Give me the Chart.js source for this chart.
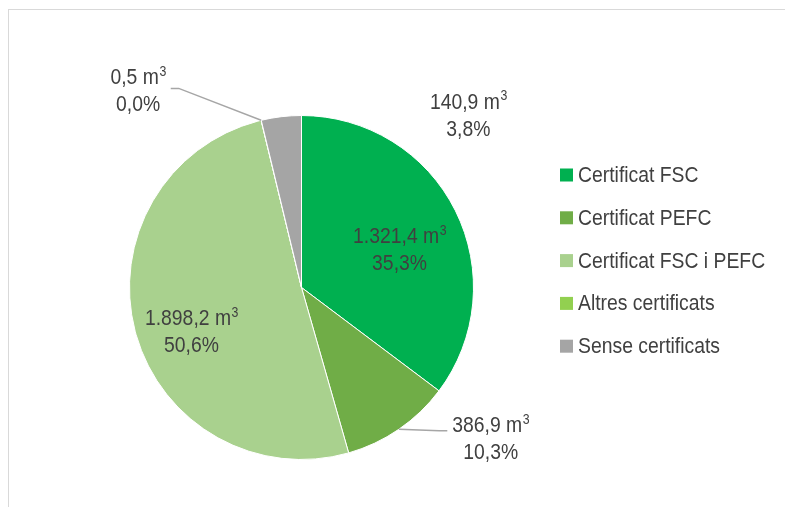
<!DOCTYPE html>
<html>
<head>
<meta charset="utf-8">
<script src="https://cdn.jsdelivr.net/npm/chart.js@4.4.1/dist/chart.umd.min.js"></script>
<style>
  html, body { margin: 0; padding: 0; background: #fff; }
  #wrap { position: relative; width: 785px; height: 507px; overflow: hidden; }
  #frame { position: absolute; left: 8px; top: 9px; width: 800px; height: 520px; border: 1px solid #d9d9d9; }
  canvas { position: absolute; left: 0; top: 0; }
</style>
</head>
<body>
<div id="wrap">
  <div id="frame"></div>
  <canvas id="pie" width="785" height="507"></canvas>
</div>
<script>
const categories = ["Certificat FSC", "Certificat PEFC", "Certificat FSC i PEFC", "Altres certificats", "Sense certificats"];
const volumes = [1321.4, 386.9, 1898.2, 0.5, 140.9]; // m3
const colors = ["#00b050", "#70ad47", "#a9d18e", "#92d050", "#a5a5a5"];

// where each data label sits, in pie-radius units from the centre
const labelPos = [[0.57, -0.22], [1.10, 0.88], [-0.64, 0.26], [-0.95, -1.14], [0.97, -1.00]];
const hasLeader = [false, true, false, true, false];

// no Arial Narrow here, so squeeze Liberation Sans horizontally
const FONT = '22px "Liberation Sans", Arial, sans-serif';
const SUP_FONT = '14px "Liberation Sans", Arial, sans-serif';
const SQUEEZE = 0.88;
const TEXT = "#404040";

function fmt(v) {
  let parts = v.toFixed(1).split(".");
  parts[0] = parts[0].replace(/\B(?=(\d{3})+(?!\d))/g, ".");
  return parts[0] + "," + parts[1];
}

function narrowText(ctx, str, x, y) {
  ctx.save();
  ctx.translate(x, y);
  ctx.scale(SQUEEZE, 1);
  ctx.fillText(str, 0, 0);
  ctx.restore();
}

// "123,4 m" + raised small "3", centred on x; returns total width
function volumeText(ctx, str, x, y) {
  ctx.save();
  ctx.font = FONT;
  const wBase = ctx.measureText(str).width * SQUEEZE;
  ctx.font = SUP_FONT;
  const wSup = ctx.measureText("3").width * SQUEEZE;
  const left = x - (wBase + wSup) / 2;
  ctx.textAlign = "left";
  ctx.font = FONT;
  narrowText(ctx, str, left, y);
  ctx.font = SUP_FONT;
  narrowText(ctx, "3", left + wBase + 0.5, y - 6);
  ctx.restore();
  return wBase + wSup;
}

const total = volumes.reduce((a, b) => a + b, 0);

const labelPlugin = {
  id: "pieLabels",
  afterDatasetsDraw(chart) {
    const ctx = chart.ctx;
    const arcs = chart.getDatasetMeta(0).data;
    ctx.save();
    ctx.font = FONT;
    ctx.fillStyle = TEXT;
    ctx.textAlign = "center";
    ctx.textBaseline = "middle";
    arcs.forEach((arc, i) => {
      const r = arc.outerRadius;
      const x = arc.x + labelPos[i][0] * r;
      const y = arc.y + labelPos[i][1] * r;
      const w = volumeText(ctx, fmt(volumes[i]) + " m", x, y - 13);
      narrowText(ctx, fmt(volumes[i] / total * 100) + "%", x, y + 14);
      if (hasLeader[i]) {
        const mid = (arc.startAngle + arc.endAngle) / 2;
        const ex = arc.x + Math.cos(mid) * r;
        const ey = arc.y + Math.sin(mid) * r;
        const side = x > arc.x ? -1 : 1;
        const tx = x + side * (w / 2 + 5);
        const ty = y - 13 + (side < 0 ? 5 : 10);
        ctx.strokeStyle = "#a6a6a6";
        ctx.lineWidth = 1.5;
        ctx.beginPath();
        ctx.moveTo(ex, ey);
        ctx.lineTo(tx + side * 8, ty);
        ctx.lineTo(tx, ty);
        ctx.stroke();
      }
    });
    ctx.restore();
  }
};

const legendPlugin = {
  id: "sideLegend",
  afterDraw(chart) {
    const ctx = chart.ctx;
    ctx.save();
    ctx.font = FONT;
    ctx.textBaseline = "middle";
    ctx.textAlign = "left";
    categories.forEach((name, i) => {
      const cy = 175 + i * 42.8;
      ctx.fillStyle = colors[i];
      ctx.fillRect(560, cy - 6.5, 13, 13);
      ctx.fillStyle = TEXT;
      narrowText(ctx, name, 578, cy + 1);
    });
    ctx.restore();
  }
};

const ctx = document.getElementById("pie").getContext("2d");
new Chart(ctx, {
  type: "pie",
  data: {
    labels: categories,
    datasets: [{
      data: volumes,
      backgroundColor: colors,
      borderColor: "#ffffff",
      borderWidth: 1
    }]
  },
  options: {
    responsive: false,
    animation: false,
    layout: { padding: { left: 129, right: 311, top: 115, bottom: 47 } },
    plugins: {
      legend: { display: false },
      tooltip: { enabled: false }
    }
  },
  plugins: [labelPlugin, legendPlugin]
});
</script>
</body>
</html>
